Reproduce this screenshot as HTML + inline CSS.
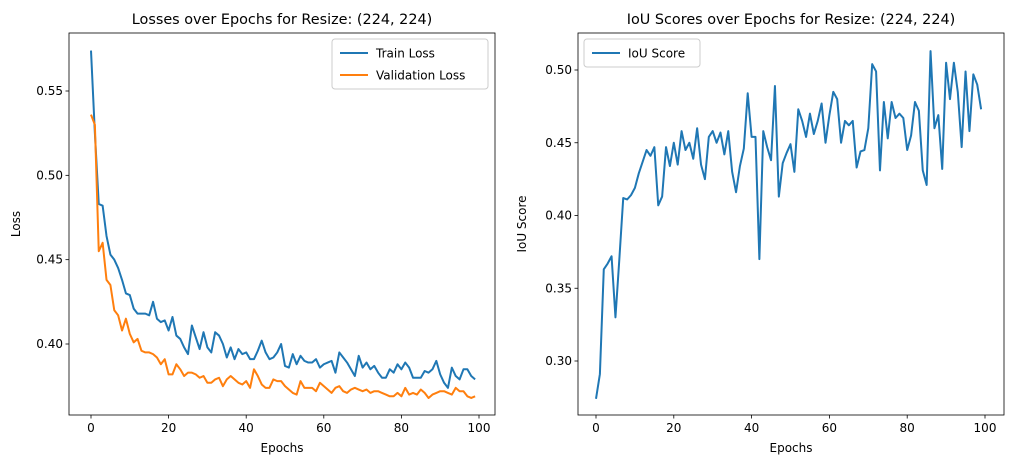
<!DOCTYPE html>
<html><head><meta charset="utf-8"><style>
body{margin:0;background:#fff;width:1009px;height:470px;overflow:hidden}
svg{font-family:"DejaVu Sans","Liberation Sans",sans-serif}
</style></head><body>
<svg id="c" width="1009" height="470"></svg>
<script>
const epochs = Array.from({length:100},(_,i)=>i);
const trainLoss=[0.574,0.525,0.483,0.482,0.464,0.453,0.450,0.445,0.438,0.430,0.429,0.421,0.418,0.418,0.418,0.417,0.425,0.415,0.413,0.414,0.408,0.416,0.405,0.403,0.398,0.394,0.411,0.404,0.397,0.407,0.398,0.395,0.407,0.405,0.400,0.392,0.398,0.391,0.397,0.394,0.395,0.391,0.391,0.396,0.402,0.395,0.391,0.392,0.395,0.400,0.387,0.386,0.394,0.388,0.393,0.390,0.389,0.389,0.391,0.386,0.388,0.389,0.390,0.383,0.395,0.392,0.389,0.385,0.381,0.393,0.386,0.389,0.385,0.387,0.383,0.380,0.380,0.385,0.383,0.388,0.385,0.389,0.386,0.380,0.380,0.380,0.384,0.383,0.385,0.390,0.382,0.377,0.374,0.386,0.381,0.379,0.385,0.385,0.381,0.379];
const valLoss=[0.536,0.530,0.455,0.460,0.438,0.435,0.420,0.417,0.408,0.415,0.406,0.401,0.403,0.396,0.395,0.395,0.394,0.392,0.388,0.391,0.382,0.382,0.388,0.385,0.381,0.383,0.383,0.382,0.380,0.381,0.377,0.377,0.379,0.380,0.375,0.379,0.381,0.379,0.377,0.376,0.378,0.374,0.385,0.381,0.376,0.374,0.374,0.379,0.378,0.378,0.375,0.373,0.371,0.370,0.378,0.374,0.374,0.374,0.372,0.377,0.375,0.373,0.371,0.374,0.375,0.372,0.371,0.373,0.374,0.373,0.372,0.373,0.371,0.372,0.372,0.371,0.370,0.369,0.369,0.371,0.369,0.374,0.370,0.371,0.370,0.373,0.371,0.368,0.370,0.371,0.372,0.372,0.371,0.370,0.374,0.372,0.372,0.369,0.368,0.369];
const iou=[0.274,0.291,0.363,0.367,0.372,0.330,0.370,0.412,0.411,0.414,0.419,0.429,0.437,0.445,0.441,0.447,0.407,0.413,0.447,0.434,0.450,0.435,0.458,0.445,0.450,0.439,0.460,0.435,0.425,0.454,0.458,0.450,0.457,0.442,0.458,0.430,0.416,0.434,0.446,0.484,0.454,0.454,0.370,0.458,0.447,0.438,0.489,0.413,0.436,0.443,0.449,0.430,0.473,0.465,0.454,0.470,0.456,0.465,0.477,0.450,0.469,0.485,0.480,0.450,0.465,0.462,0.465,0.433,0.444,0.445,0.460,0.504,0.499,0.431,0.478,0.453,0.478,0.467,0.470,0.467,0.445,0.455,0.478,0.472,0.431,0.421,0.513,0.460,0.469,0.432,0.505,0.480,0.505,0.485,0.447,0.499,0.458,0.497,0.490,0.473];
const xTicks=[0,20,40,60,80,100];
const lossTicks=[0.40,0.45,0.50,0.55];
const iouTicks=[0.30,0.35,0.40,0.45,0.50];

const NS="http://www.w3.org/2000/svg";
const svg=document.getElementById('c');
function mk(tag,attrs,parent){const e=document.createElementNS(NS,tag);for(const k in attrs)e.setAttribute(k,attrs[k]);(parent||svg).appendChild(e);return e;}

function panel(o){
  const g=mk('g',{});
  
  
  const X=v=>o.x0+(v-0)*(o.x100-o.x0)/100;
  const Y=v=>o.yA+(v-o.vA)*(o.yB-o.yA)/(o.vB-o.vA);
  o.series.forEach(s=>{
    const p=mk('polyline',{points:s.data.map((v,i)=>X(epochs[i])+','+Y(v)).join(' '),fill:'none',stroke:s.color,'stroke-width':2,'stroke-linejoin':'round'},g);
    
    
  });
  const fr=mk('rect',{x:o.l,y:o.t,width:o.r-o.l,height:o.b-o.t,fill:'none',stroke:'#000','stroke-width':0.8},g);
  
  
  xTicks.forEach(t=>{
    const x=X(t);
    mk('line',{x1:x,x2:x,y1:o.b,y2:o.b+3.5,stroke:'#000','stroke-width':0.8},g);
    const tx=mk('text',{x:x,y:o.b+17,'text-anchor':'middle','font-size':12,fill:'#000'},g);
    tx.textContent=t;
    
    
  });
  o.yTicks.forEach(t=>{
    const y=Y(t);
    mk('line',{x1:o.l-3.5,x2:o.l,y1:y,y2:y,stroke:'#000','stroke-width':0.8},g);
    const tx=mk('text',{x:o.l-6,y:y+4,'text-anchor':'end','font-size':12,fill:'#000'},g);
    tx.textContent=t.toFixed(2);
    
    
  });
  const ti=mk('text',{x:(o.l+o.r)/2,y:o.t-9,'text-anchor':'middle','font-size':14.4},g);
  ti.textContent=o.title;
  
  
  const xl=mk('text',{x:(o.l+o.r)/2,y:o.b+37,'text-anchor':'middle','font-size':12},g);
  xl.textContent='Epochs';
  
  
  const yl=mk('text',{x:0,y:0,'text-anchor':'middle','font-size':12,transform:`translate(${o.ylx},${(o.t+o.b)/2}) rotate(-90)`},g);
  yl.textContent=o.ylabel;
  
  
  const L=o.legend;
  const lg=mk('g',{},g);
  
  
  mk('rect',{x:L.x,y:L.y,width:L.w,height:o.series.length*22+6,rx:3,fill:'#fff',stroke:'#ccc','stroke-width':1},lg);
  o.series.forEach((s,i)=>{
    const yy=L.y+14+i*22;
    mk('line',{x1:L.x+8,x2:L.x+36,y1:yy,y2:yy,stroke:s.color,'stroke-width':2},lg);
    const t=mk('text',{x:L.x+44,y:yy+4.5,'font-size':12},lg);
    t.textContent=s.label;
    
    
  });
}
panel({name:'loss-panel',l:69,r:495,t:33,b:415,x0:91,x100:479,vA:0.40,yA:344,vB:0.55,yB:91,
  yTicks:lossTicks,title:'Losses over Epochs for Resize: (224, 224)',ylabel:'Loss',ylx:20,
  legend:{x:332,y:39,w:156},
  series:[{name:'train-loss-line',label:'Train Loss',color:'#1f77b4',data:trainLoss},
          {name:'validation-loss-line',label:'Validation Loss',color:'#ff7f0e',data:valLoss}]});
panel({name:'iou-panel',l:578,r:1004,t:33,b:415,x0:596,x100:985,vA:0.30,yA:361,vB:0.50,yB:70,
  yTicks:iouTicks,title:'IoU Scores over Epochs for Resize: (224, 224)',ylabel:'IoU Score',ylx:526,
  legend:{x:584,y:39,w:116},
  series:[{name:'iou-score-line',label:'IoU Score',color:'#1f77b4',data:iou}]});
</script>
</body></html>
